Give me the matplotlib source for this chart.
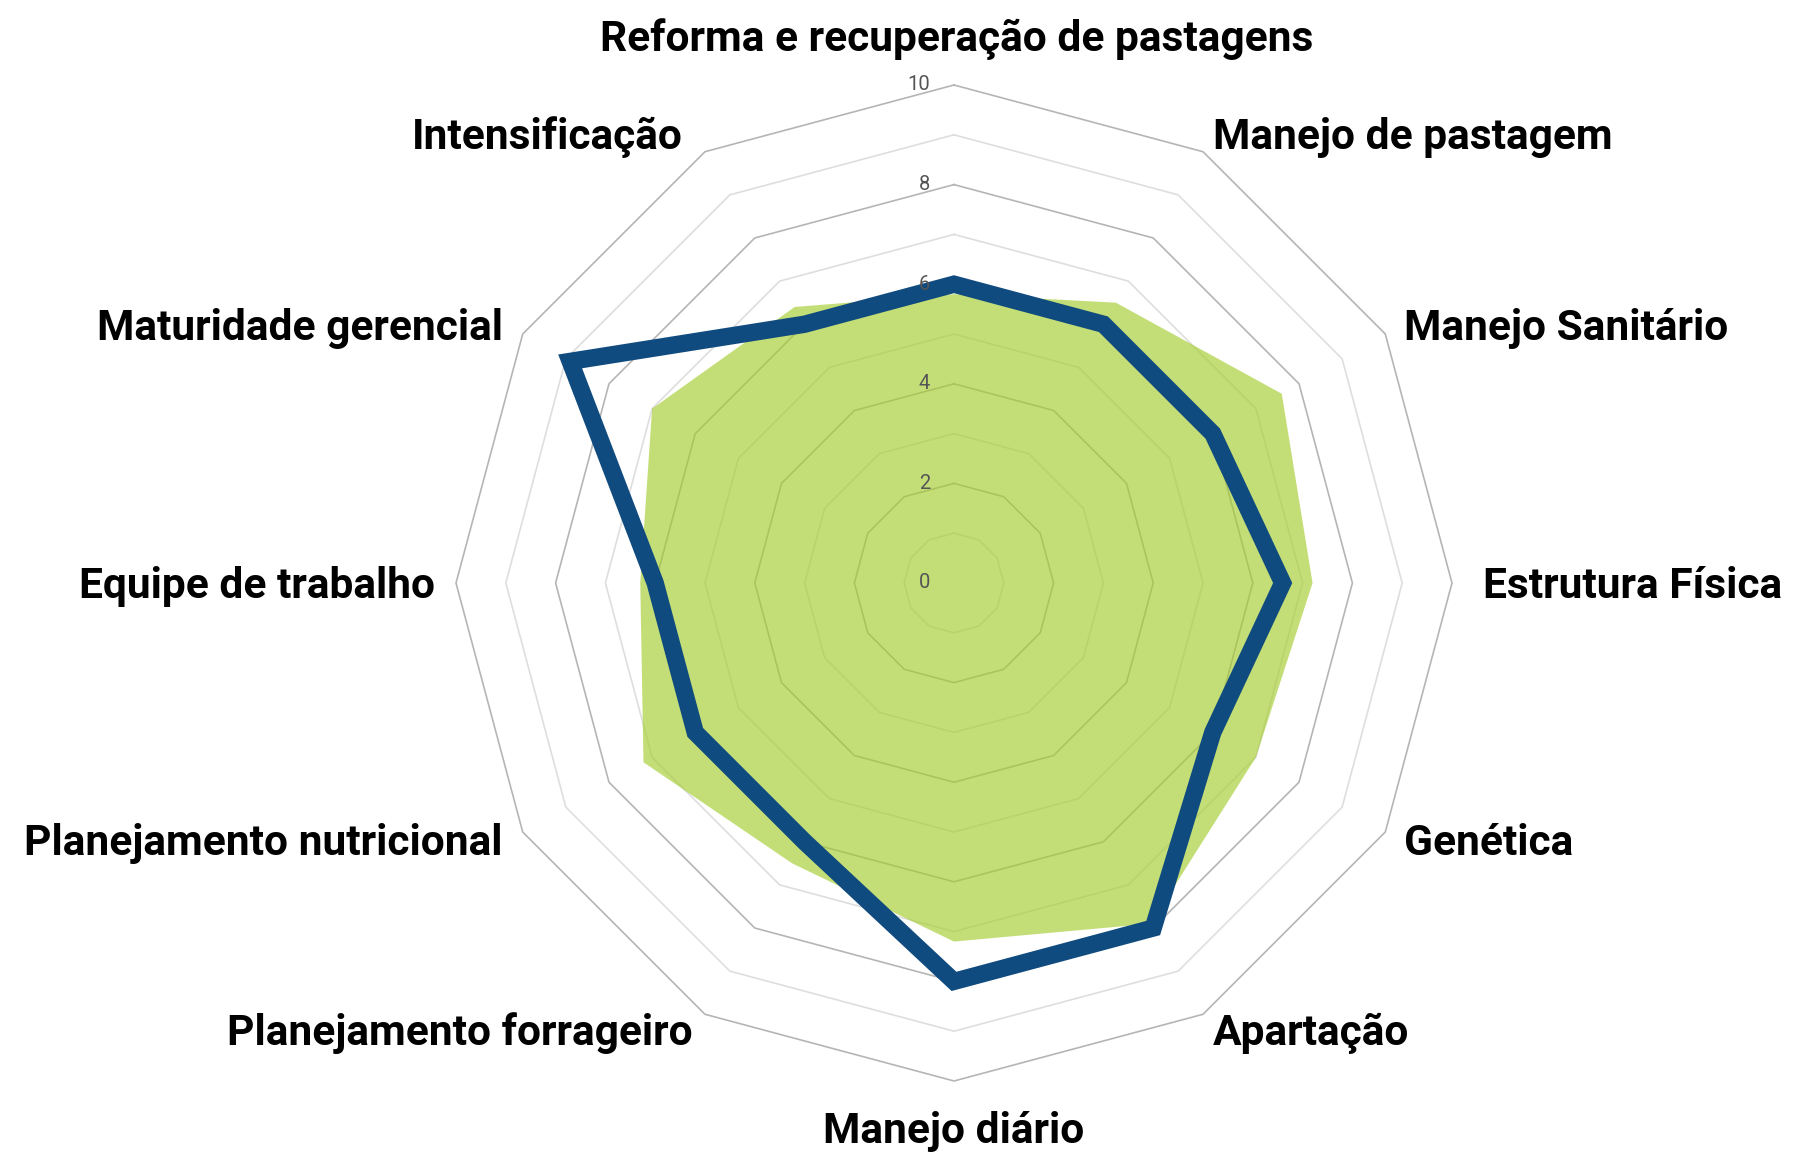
import numpy as np
import matplotlib
matplotlib.use('Agg')
import matplotlib.pyplot as plt

plt.rcParams['font.family'] = ['Roboto', 'DejaVu Sans']

# Eixos do radar (sentido horario, a partir do topo)
categorias = [
    'Reforma e recuperação de pastagens',
    'Manejo de pastagem',
    'Manejo Sanitário',
    'Estrutura Física',
    'Genética',
    'Apartação',
    'Manejo diário',
    'Planejamento forrageiro',
    'Planejamento nutricional',
    'Equipe de trabalho',
    'Maturidade gerencial',
    'Intensificação',
]

# Area verde (referencia)
valores_area = [5.8, 6.5, 7.6, 7.2, 7.0, 7.9, 7.2, 6.5, 7.2, 6.3, 7.0, 6.4]
# Linha azul
valores_linha = [6.0, 6.0, 6.0, 6.6, 6.0, 8.0, 8.0, 6.0, 6.0, 6.0, 8.9, 6.0]

escala_ticks = [0, 2, 4, 6, 8, 10]
r_max = 10

# deslocamento dos rotulos (pixels) em relacao ao vertice externo
desloc_rotulos = [(3, 34, 'center'), (10, 3, 'left'), (19, -6, 'left'),
                  (31, -15, 'left'), (19, -23, 'left'), (10, -31, 'left'),
                  (0, -62, 'center'), (-12, -31, 'right'), (-20, -23, 'right'),
                  (-21, -15, 'right'), (-20, -6, 'right'), (-22, 3, 'right')]

n = len(categorias)
angulos = np.linspace(0, 2 * np.pi, n, endpoint=False)
ang_fechado = np.append(angulos, angulos[0])

W, H = 1793, 1153
cx, cy, raio = 954, 583, 498
fig = plt.figure(figsize=(W / 100, H / 100), dpi=100)
ax = fig.add_axes([(cx - raio) / W, (H - cy - raio) / H, 2 * raio / W, 2 * raio / H],
                  projection='polar')
ax.set_theta_zero_location('N')
ax.set_theta_direction(-1)
ax.set_ylim(0, r_max)
ax.axis('off')

# Grade poligonal
for r in range(1, r_max + 1):
    cor = '#b5b5b5' if r % 2 == 0 else '#dedede'
    ax.plot(ang_fechado, [r] * (n + 1), color=cor, lw=1.2, zorder=1, clip_on=False)

# Area verde
area = np.append(valores_area, valores_area[0])
ax.fill(ang_fechado, area, color=(164 / 255, 204 / 255, 47 / 255), alpha=0.65,
        lw=0, zorder=2)

# Linha azul
linha = np.append(valores_linha, valores_linha[0])
ax.fill(ang_fechado, linha, facecolor='none', edgecolor='#104b80', lw=12.5,
        joinstyle='miter', zorder=3, clip_on=False)

# Rotulos da escala
for v in escala_ticks:
    ax.annotate(str(v), xy=(0, v), xytext=(-24, 0), textcoords='offset pixels',
                ha='right', va='center', fontsize=14.5, color='#555555',
                zorder=4, annotation_clip=False)

# Rotulos dos eixos
for ang, cat, (dx, dy, ha) in zip(angulos, categorias, desloc_rotulos):
    ax.annotate(cat, xy=(ang, r_max), xytext=(dx, dy), textcoords='offset pixels',
                ha=ha, va='baseline', fontsize=30.6, fontweight='bold',
                color='#000000', annotation_clip=False)

fig.savefig('out.png', dpi=100)
